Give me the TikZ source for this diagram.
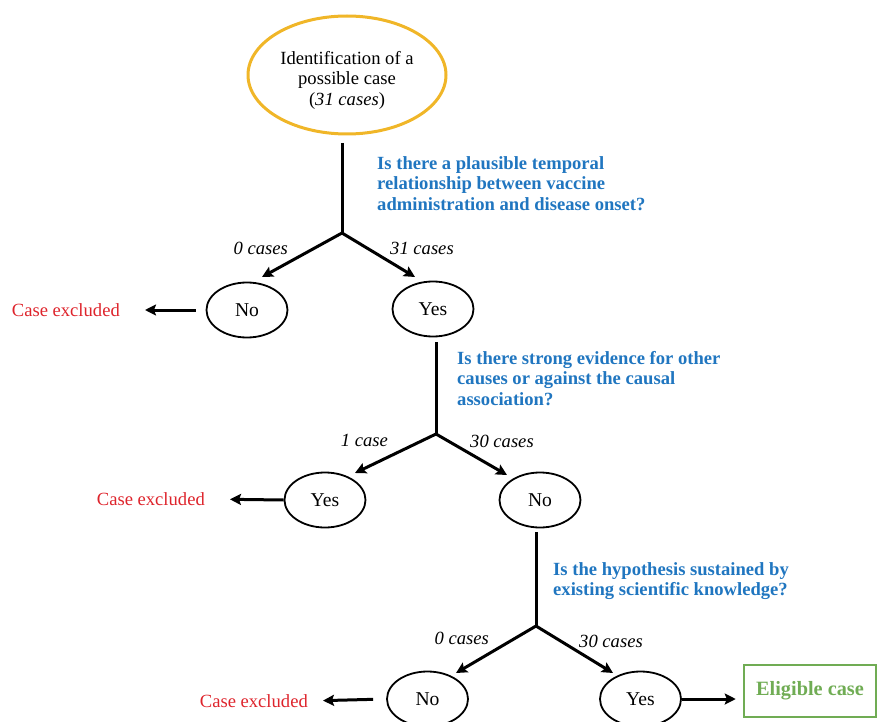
\documentclass[tikz,border=0pt]{standalone}
\usepackage{fontspec}
\setmainfont{Liberation Serif}
\usetikzlibrary{shapes.geometric,arrows.meta,calc}
\definecolor{qblue}{RGB}{32,118,192}
\definecolor{exred}{RGB}{222,36,44}
\definecolor{startorange}{RGB}{240,182,40}
\definecolor{okgreen}{RGB}{112,172,84}
\tikzset{
  startell/.style={ellipse,draw=startorange,line width=3pt,minimum width=198pt,minimum height=118pt,align=center,inner sep=0pt},
  ans/.style={ellipse,draw=black,line width=1.8pt,minimum width=81pt,minimum height=55pt,inner sep=0pt,font=\fontsize{19.6}{22}\selectfont},
  stem/.style={line width=3pt},
  arr/.style={line width=3pt,-{Stealth[length=11pt,width=11pt,inset=2pt]}},
  excl/.style={text=exred,inner sep=0pt},
  question/.style={text=qblue,font=\fontsize{18.6}{20.5}\selectfont\bfseries,align=left,inner sep=0pt,anchor=north west},
  cnt/.style={font=\fontsize{18.6}{20.5}\selectfont\itshape,inner sep=0pt},
  elig/.style={draw=okgreen,line width=2.5pt,minimum width=132pt,minimum height=52pt,text=okgreen,font=\fontsize{20.3}{22}\selectfont\bfseries,inner sep=0pt}
}
\begin{document}
\begin{tikzpicture}[x=1pt,y=-1pt,font=\fontsize{18.6}{20.5}\selectfont]
\useasboundingbox (0,0) rectangle (878,722);
\clip (0,0) rectangle (878,722);

% start
\node[startell] (start) at (347,75) {\rule{0pt}{23pt}Identification of a\\possible case\\(\textit{31 cases})};

% level 1
\coordinate (s1) at (342,143);
\coordinate (b1) at (342,233);
\draw[stem] (s1) -- (b1);
\node[question] (q1) at (377,156) {Is there a plausible temporal\\relationship between vaccine\\administration and disease onset?};
\node[ans] (no1) at (247,310) {No};
\node[ans] (yes1) at (433,309) {Yes};
\draw[arr] (b1) -- ($(no1.center)+(15,-33)$);
\draw[arr] (b1) -- ($(yes1.center)+(-18,-32)$);
\node[cnt,anchor=east] (c1a) at (288,248) {0 cases};
\node[cnt,anchor=west] (c1b) at (390,248) {31 cases};
\node[excl,anchor=east] (ex1) at (120,310) {Case excluded};
\draw[arr,shorten <=10pt,shorten >=25pt] (no1.west) -- (ex1.east);

% level 2
\coordinate (s2) at (436,342);
\coordinate (b2) at (436,434);
\draw[stem] (s2) -- (b2);
\node[question] (q2) at (457,351) {Is there strong evidence for other\\causes or against the causal\\association?};
\node[ans] (yes2) at (325,500) {Yes};
\node[ans] (no2) at (540,500) {No};
\draw[arr] (b2) -- ($(yes2.center)+(30,-27)$);
\draw[arr] (b2) -- ($(no2.center)+(-33,-25)$);
\node[cnt,anchor=east] (c2a) at (388,440) {1 case};
\node[cnt,anchor=west] (c2b) at (470,441) {30 cases};
\node[excl,anchor=east] (ex2) at (205,499) {Case excluded};
\draw[arr,shorten >=25pt] (yes2.west) -- (ex2.east);

% level 3
\coordinate (s3) at (536,532);
\coordinate (b3) at (536,626);
\draw[stem] (s3) -- (b3);
\node[question] (q3) at (553,562) {Is the hypothesis sustained by\\existing scientific knowledge?};
\node[ans] (no3) at (427.5,699) {No};
\node[ans] (yes3) at (640.5,699) {Yes};
\draw[arr] (b3) -- ($(no3.center)+(28.5,-26)$);
\draw[arr] (b3) -- ($(yes3.center)+(-27.5,-26)$);
\node[cnt,anchor=east] (c3a) at (489,638) {0 cases};
\node[cnt,anchor=west] (c3b) at (579,641) {30 cases};
\node[excl,anchor=east] (ex3) at (308,701) {Case excluded};
\draw[arr,shorten <=13pt,shorten >=15pt] (no3.west) -- (ex3.east);

% eligible
\node[elig] (el) at (810,691) {Eligible case};
\draw[arr,shorten >=7pt] (yes3.east) -- (yes3.east -| el.west);
\end{tikzpicture}
\end{document}
